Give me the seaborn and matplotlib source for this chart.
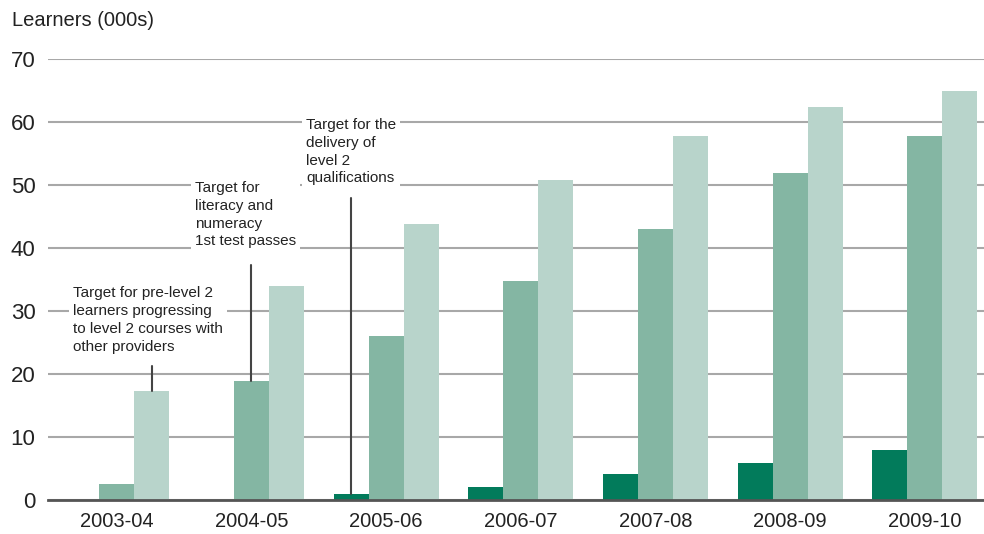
import numpy as np
import pandas as pd
import matplotlib
matplotlib.use('Agg')
import matplotlib.pyplot as plt
import seaborn as sns

years = ['2003-04', '2004-05', '2005-06', '2006-07', '2007-08', '2008-09', '2009-10']
level2_delivery = [0, 0, 1.0, 2.1, 4.1, 5.9, 7.9]
literacy_numeracy = [2.5, 18.9, 26.0, 34.8, 43.0, 51.9, 57.8]
pre_level2 = [17.3, 34.0, 43.8, 50.8, 57.8, 62.4, 64.9]
series_names = ['Delivery of level 2 qualifications', 'Literacy and numeracy 1st test passes',
                'Pre-level 2 learners progressing']
colors = ['#027b5b', '#84b6a3', '#b8d4cb']

df = pd.DataFrame({
    'year': years * 3,
    'value': level2_delivery + literacy_numeracy + pre_level2,
    'series': [s for s in series_names for _ in years],
})

sns.set_style('white')
plt.rcParams['font.family'] = ['Liberation Sans', 'DejaVu Sans']

fig = plt.figure(figsize=(9.84, 5.34), dpi=100)
ax = fig.add_axes([0.0488, 0.0637, 0.9512, 0.8258])

sns.barplot(data=df, x='year', y='value', hue='series', hue_order=series_names,
            palette=colors, width=0.78, gap=0, saturation=1, linewidth=0,
            legend=False, ax=ax, zorder=3)

ax.set_ylim(0, 70)
ax.set_xlim(-0.51, 6.44)
ax.set_yticks(range(0, 71, 10))
ax.yaxis.grid(True, color='#a8a8a8', linewidth=1.5, zorder=0)
ax.set_axisbelow(True)
for s in ['top', 'right', 'left']:
    ax.spines[s].set_visible(False)
ax.spines['bottom'].set_color('#555555')
ax.spines['bottom'].set_linewidth(2)
ax.spines['bottom'].set_zorder(4)
ax.tick_params(axis='y', length=0, pad=9, labelsize=16, labelcolor='#222222')
ax.tick_params(axis='x', length=0, pad=9, labelsize=14.5, labelcolor='#222222')
ax.set_xlabel('')
ax.set_ylabel('')

fig.text(0.012, 0.962, 'Learners (000s)', fontsize=14.5, color='#222222', va='center')

# annotations: (series index, year index, text x, text top y, line top y, text)
notes = [
    (2, 0, -0.323, 34.0, 21.3, 'Target for pre-level 2\nlearners progressing\nto level 2 courses with\nother providers'),
    (1, 1, 0.583, 50.7, 37.3, 'Target for\nliteracy and\nnumeracy\n1st test passes'),
    (0, 2, 1.406, 60.7, 47.9, 'Target for the\ndelivery of\nlevel 2\nqualifications'),
]
for si, yi, tx, ty, ly, label in notes:
    bar = ax.containers[si][yi]
    bx = bar.get_x() + bar.get_width() / 2
    ax.plot([bx, bx], [bar.get_height(), ly], color='#444444', linewidth=1.5, zorder=5)
    ax.text(tx, ty, label, fontsize=11, color='#222222', va='top', ha='left',
            linespacing=1.36, zorder=6,
            bbox=dict(facecolor='white', edgecolor='none', pad=3))

fig.savefig('out.png', dpi=100)
